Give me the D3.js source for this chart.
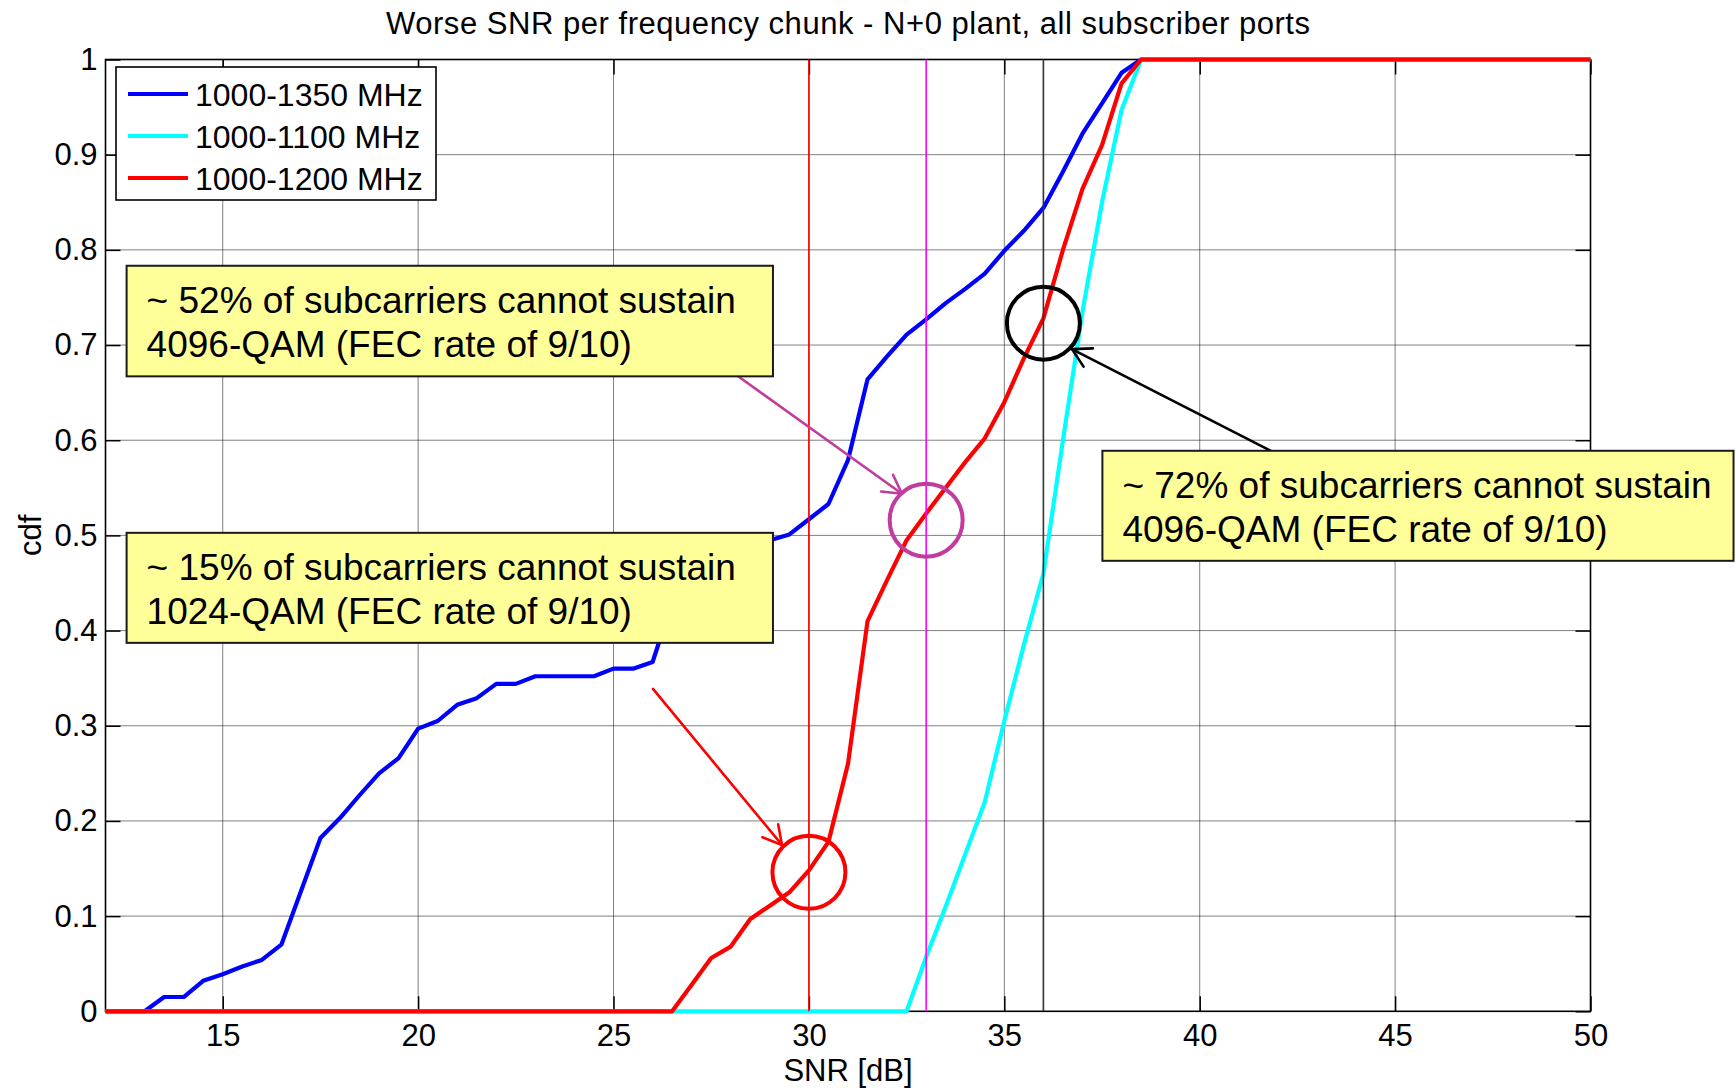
<!DOCTYPE html>
<html><head><meta charset="utf-8">
<script src="https://cdn.jsdelivr.net/npm/d3@7"></script>
<style>body{margin:0;background:#fff}</style>
</head><body><svg id="c" width="1735" height="1088"></svg>
<script>
// ---------- data ----------
const titleText = "Worse SNR per frequency chunk - N+0 plant, all subscriber ports";
const xLabel = "SNR [dB]";
const yLabel = "cdf";
const xDomain = [12, 50];
const yDomain = [0, 1];
const xTicks = [15, 20, 25, 30, 35, 40, 45, 50];
const yTicks = [0, 0.1, 0.2, 0.3, 0.4, 0.5, 0.6, 0.7, 0.8, 0.9, 1];
const yTickLabels = ["0", "0.1", "0.2", "0.3", "0.4", "0.5", "0.6", "0.7", "0.8", "0.9", "1"];

const seriesNames = ["1000-1350 MHz", "1000-1100 MHz", "1000-1200 MHz"];
const seriesColors = ["#0000ff", "#00ffff", "#ff0000"];

const snr1350 = [12, 13, 13.5, 14, 14.5, 15, 15.5, 16, 16.5, 17.5, 18, 18.5, 19, 19.5, 20, 20.5, 21, 21.5, 22, 22.5, 23, 24.5, 25, 25.5, 26, 26.5, 27, 27.5, 28, 28.5, 29, 29.5, 30, 30.5, 31, 31.5, 32, 32.5, 33, 33.5, 34, 34.5, 35, 35.5, 36, 36.5, 37, 37.5, 38, 38.5, 50];
const cdf1350 = [0, 0, 0.015, 0.015, 0.032, 0.039, 0.047, 0.054, 0.07, 0.182, 0.203, 0.227, 0.25, 0.266, 0.297, 0.305, 0.322, 0.329, 0.344, 0.344, 0.352, 0.352, 0.36, 0.36, 0.367, 0.43, 0.45, 0.46, 0.47, 0.485, 0.495, 0.501, 0.517, 0.533, 0.579, 0.664, 0.688, 0.711, 0.727, 0.744, 0.759, 0.775, 0.799, 0.82, 0.844, 0.882, 0.922, 0.954, 0.986, 1, 1];

const snr1100 = [12, 32.5, 33, 33.5, 34, 34.5, 35, 35.5, 36, 36.5, 37, 37.5, 38, 38.5, 50];
const cdf1100 = [0, 0, 0.057, 0.11, 0.165, 0.22, 0.305, 0.385, 0.46, 0.6, 0.735, 0.85, 0.947, 1, 1];

const snr1200 = [12, 26.5, 27, 27.5, 28, 28.5, 29, 29.5, 30, 30.5, 31, 31.5, 32, 32.5, 33, 33.5, 34, 34.5, 35, 35.5, 36, 36.5, 37, 37.5, 38, 38.5, 50];
const cdf1200 = [0, 0, 0.028, 0.056, 0.068, 0.097, 0.111, 0.125, 0.148, 0.178, 0.26, 0.41, 0.453, 0.495, 0.523, 0.55, 0.577, 0.602, 0.64, 0.686, 0.728, 0.8, 0.864, 0.91, 0.975, 1, 1];

// vertical reference thresholds
const refSNR = [30, 33, 36];
const refColors = ["#ff0000", "#ff00ff", "#333333"];

// circled points
const markSNR = [33, 30, 36];
const markCdf = [0.516, 0.146, 0.723];
const markColors = ["#c23c9e", "#ff0000", "#000000"];

// notes (box corners and arrows in data units)
const noteText = [
  ["~ 52% of subcarriers cannot sustain", "4096-QAM (FEC rate of 9/10)"],
  ["~ 15% of subcarriers cannot sustain", "1024-QAM (FEC rate of 9/10)"],
  ["~ 72% of subcarriers cannot sustain", "4096-QAM (FEC rate of 9/10)"]
];
const noteLeft = [12.54, 12.54, 37.51];
const noteRight = [29.08, 29.08, 53.66];
const noteTop = [0.7833, 0.5027, 0.5889];
const noteBottom = [0.6671, 0.3871, 0.4733];
const arrowFromSNR = [28.17, 26.01, 41.82];
const arrowFromCdf = [0.6677, 0.3387, 0.5889];
const arrowToSNR = [32.38, 29.31, 36.73];
const arrowToCdf = [0.5437, 0.1748, 0.6957];
const arrowColors = ["#c23c9e", "#ff0000", "#000000"];

// ---------- drawing ----------
const L = 105.5, R = 1590.5, T = 59.5, B = 1011.3;
const FONT = "'Liberation Sans', Arial, Helvetica, sans-serif";
const svg = d3.select("#c");
const x = d3.scaleLinear().domain(xDomain).range([L, R]);
const y = d3.scaleLinear().domain(yDomain).range([B, T]);

// grid
const grid = svg.append("g").attr("stroke", "#000").attr("stroke-width", 1).attr("stroke-dasharray", "1,1");
grid.selectAll("line.gx").data(xTicks.filter(d => d > xDomain[0] && d < xDomain[1])).join("line")
  .attr("x1", d => x(d)).attr("x2", d => x(d)).attr("y1", T).attr("y2", B);
grid.selectAll("line.gy").data(yTicks.filter(d => d > yDomain[0] && d < yDomain[1])).join("line")
  .attr("x1", L).attr("x2", R).attr("y1", d => y(d)).attr("y2", d => y(d));

// axes
function styleAxis(g) {
  g.select(".domain").remove();
  g.selectAll(".tick line").attr("stroke", "#000").attr("stroke-width", 1.5);
  g.selectAll(".tick text").attr("font-family", FONT).attr("font-size", 31).attr("fill", "#000");
}
svg.append("g").attr("transform", `translate(0,${B})`)
  .call(d3.axisBottom(x).tickValues(xTicks).tickSizeInner(-15).tickSizeOuter(0).tickPadding(13).tickFormat(d3.format("d")))
  .call(styleAxis);
svg.append("g").attr("transform", `translate(0,${T})`)
  .call(d3.axisTop(x).tickValues(xTicks).tickSizeInner(-15).tickSizeOuter(0).tickFormat(""))
  .call(styleAxis);
svg.append("g").attr("transform", `translate(${L},0)`)
  .call(d3.axisLeft(y).tickValues(yTicks).tickSizeInner(-15).tickSizeOuter(0).tickPadding(8).tickFormat((d, i) => yTickLabels[i]))
  .call(styleAxis);
svg.append("g").attr("transform", `translate(${R},0)`)
  .call(d3.axisRight(y).tickValues(yTicks).tickSizeInner(-15).tickSizeOuter(0).tickFormat(""))
  .call(styleAxis);
svg.append("rect").attr("x", L).attr("y", T).attr("width", R - L).attr("height", B - T)
  .attr("fill", "none").attr("stroke", "#000").attr("stroke-width", 1.6);

// curves
const series = [
  {xs: snr1350, ys: cdf1350},
  {xs: snr1100, ys: cdf1100},
  {xs: snr1200, ys: cdf1200}
];
const line = d3.line().x(d => x(d[0])).y(d => y(d[1]));
series.forEach((s, i) => {
  svg.append("path").datum(s.xs.map((v, k) => [v, s.ys[k]]))
    .attr("d", line).attr("fill", "none").attr("stroke", seriesColors[i])
    .attr("stroke-width", 4.2).attr("stroke-linejoin", "round");
});

// reference lines
svg.selectAll("line.ref").data(refSNR).join("line")
  .attr("x1", d => x(d)).attr("x2", d => x(d)).attr("y1", T).attr("y2", B)
  .attr("stroke", (d, i) => refColors[i]).attr("stroke-width", 1.6);

// circles
svg.selectAll("circle.mark").data(markSNR).join("circle")
  .attr("cx", d => x(d)).attr("cy", (d, i) => y(markCdf[i])).attr("r", 36.5)
  .attr("fill", "none").attr("stroke", (d, i) => markColors[i]).attr("stroke-width", 4);

// arrows
arrowFromSNR.forEach((v, i) => {
  const x1 = x(v), y1 = y(arrowFromCdf[i]), x2 = x(arrowToSNR[i]), y2 = y(arrowToCdf[i]);
  const g = svg.append("g").attr("stroke", arrowColors[i]).attr("stroke-width", 2.6).attr("fill", "none").attr("stroke-linecap", "round");
  g.append("line").attr("x1", x1).attr("y1", y1).attr("x2", x2).attr("y2", y2);
  const ang = Math.atan2(y1 - y2, x1 - x2);
  [-0.51, 0.51].forEach(da => {
    g.append("line").attr("x1", x2).attr("y1", y2)
      .attr("x2", x2 + 21 * Math.cos(ang + da)).attr("y2", y2 + 21 * Math.sin(ang + da));
  });
});

// note boxes
noteText.forEach((lines, i) => {
  const bx = x(noteLeft[i]), by = y(noteTop[i]);
  const bw = x(noteRight[i]) - bx, bh = y(noteBottom[i]) - by;
  svg.append("rect").attr("x", bx).attr("y", by).attr("width", bw).attr("height", bh)
    .attr("fill", "#ffff99").attr("stroke", "#1a1a1a").attr("stroke-width", 2);
  lines.forEach((t, k) => {
    svg.append("text").attr("x", bx + 20).attr("y", by + 47 + k * 44)
      .attr("font-family", FONT).attr("font-size", 37).attr("fill", "#000").text(t);
  });
});

// legend
const lg = svg.append("g");
lg.append("rect").attr("x", 116).attr("y", 67).attr("width", 320).attr("height", 133)
  .attr("fill", "#fff").attr("stroke", "#000").attr("stroke-width", 1.6);
seriesNames.forEach((n, i) => {
  const ry = 94 + i * 42;
  lg.append("line").attr("x1", 128).attr("x2", 188).attr("y1", ry).attr("y2", ry)
    .attr("stroke", seriesColors[i]).attr("stroke-width", 4.2);
  lg.append("text").attr("x", 195).attr("y", ry + 12).attr("font-family", FONT)
    .attr("font-size", 32).attr("fill", "#000").text(n);
});

// title & labels
svg.append("text").attr("x", (L + R) / 2).attr("y", 34).attr("text-anchor", "middle")
  .attr("font-family", FONT).attr("font-size", 31).attr("fill", "#000")
  .attr("textLength", 924).attr("lengthAdjust", "spacing").text(titleText);
svg.append("text").attr("x", (L + R) / 2).attr("y", 1081).attr("text-anchor", "middle")
  .attr("font-family", FONT).attr("font-size", 31).attr("fill", "#000").text(xLabel);
svg.append("text").attr("transform", `translate(41,${(T + B) / 2}) rotate(-90)`).attr("text-anchor", "middle")
  .attr("font-family", FONT).attr("font-size", 31).attr("fill", "#000").text(yLabel);
</script></body></html>
